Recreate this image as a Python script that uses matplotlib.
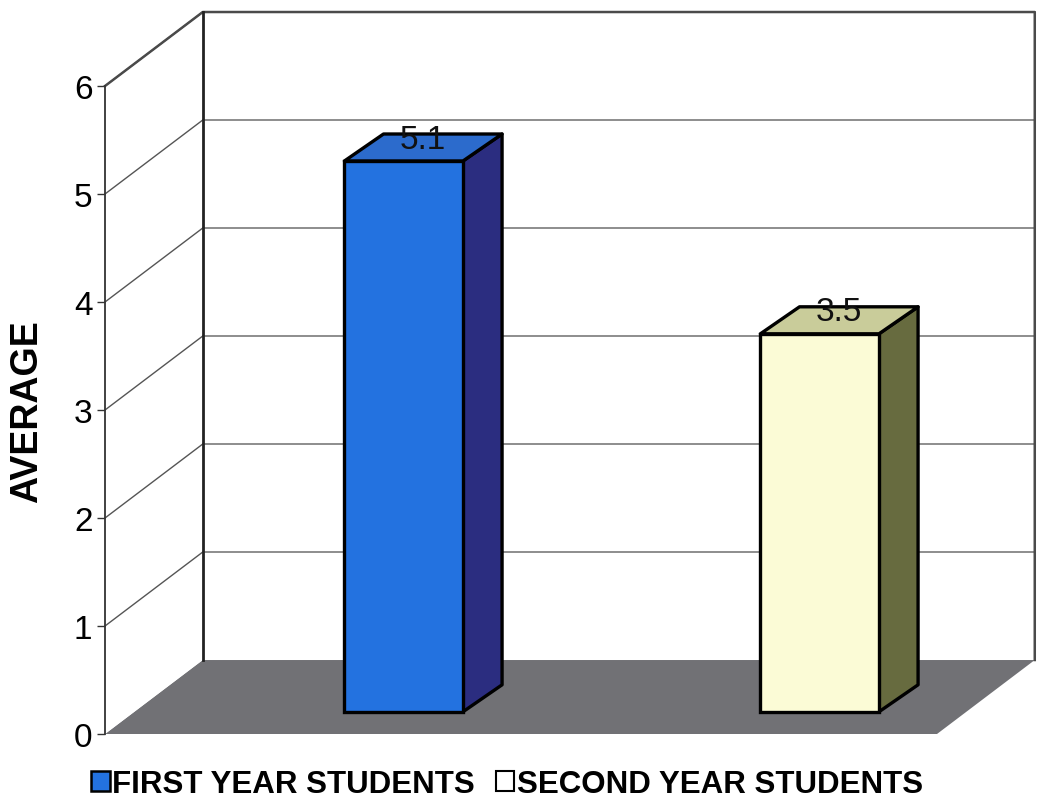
import numpy as np
import matplotlib
matplotlib.use('Agg')
import matplotlib.pyplot as plt
from matplotlib.patches import Polygon, Patch

plt.rcParams['font.family'] = ['Liberation Sans', 'DejaVu Sans']

groups = ['FIRST YEAR STUDENTS', 'SECOND YEAR STUDENTS']
averages = [5.1, 3.5]
yticks = [0, 1, 2, 3, 4, 5, 6]

front_col = ['#2372e0', '#fbfbd6']
top_col = ['#2c6bcc', '#c9cc9a']
side_col = ['#2b2d80', '#676b3f']

# fake 3d geometry (data units)
W = 2.0            # width of the floor
DX, DY = 0.235, 0.685   # depth of the walls
fdx, fdy = 0.3 * DX, 0.3 * DY   # bars sit a bit back from the front edge
bdx, bdy = 0.094, 0.25          # depth of one bar
bw = 0.285
xpos = np.arange(len(averages)) + 0.505
ytop = yticks[-1]

fig = plt.figure(figsize=(10.39, 8.03), dpi=100)
ax = fig.add_axes([0, 0, 1, 1])
ax.set_xlim(-105 / 416, (1039 - 105) / 416)
ax.set_ylim(-68 / 108, 735 / 108)

# floor
ax.add_patch(Polygon([(0, 0), (W, 0), (W + DX, DY), (DX, DY)],
                     closed=True, fc='#717175', ec='none', zorder=1))
# side wall and back wall
ax.add_patch(Polygon([(0, 0), (0, ytop), (DX, ytop + DY), (DX, DY)],
                     closed=True, fc='white', ec='none', zorder=1))
ax.add_patch(Polygon([(DX, DY), (DX, ytop + DY), (W + DX, ytop + DY), (W + DX, DY)],
                     closed=True, fc='white', ec='none', zorder=1))

for t in yticks[1:]:
    ax.plot([0, DX], [t, t + DY], color='#555555', lw=1.0, zorder=2)
    ax.plot([DX, W + DX], [t + DY, t + DY], color='#7a7a7a', lw=1.2, zorder=2)
ax.plot([0, DX, W + DX, W + DX], [ytop, ytop + DY, ytop + DY, DY],
        color='#4a4a4a', lw=1.8, zorder=2)
ax.plot([DX, DX], [DY, ytop + DY], color='#222222', lw=2.0, zorder=2)

# bars: front face, then side and top
fronts = ax.bar(xpos + fdx, averages, bw, bottom=fdy, align='edge',
                color=front_col, edgecolor='black', linewidth=2.4, zorder=5)
for i, v in enumerate(averages):
    x0 = xpos[i] + fdx
    x1 = x0 + bw
    y0 = fdy
    y1 = fdy + v
    side = [(x1, y0), (x1 + bdx, y0 + bdy), (x1 + bdx, y1 + bdy), (x1, y1)]
    top = [(x0, y1), (x0 + bdx, y1 + bdy), (x1 + bdx, y1 + bdy), (x1, y1)]
    ax.add_patch(Polygon(side, closed=True, fc=side_col[i], ec='black',
                         lw=2.4, joinstyle='round', zorder=4))
    ax.add_patch(Polygon(top, closed=True, fc=top_col[i], ec='black',
                         lw=2.4, joinstyle='round', zorder=4))
    ax.text(x0 + bw / 2 + bdx / 2, y1 + bdy / 2, f'{v:.1f}',
            ha='center', va='baseline', fontsize=24, color='#111111', zorder=6)

# front value axis
for s in ['top', 'right', 'bottom']:
    ax.spines[s].set_visible(False)
ax.spines['left'].set_position(('data', 0))
ax.spines['left'].set_bounds(0, ytop)
ax.spines['left'].set_linewidth(1.3)
ax.spines['left'].set_color('#333333')
ax.spines['left'].set_zorder(3)
ax.set_yticks(yticks)
ax.tick_params(axis='y', direction='out', length=6, width=1.0,
               color='#333333', labelsize=24, pad=3)
ax.set_xticks([])
ax.set_ylabel('AVERAGE', fontsize=27, fontweight='bold', va='center', ha='center')
ax.yaxis.set_label_coords(27 / 1039, 0.487)
ax.set_facecolor('white')

handles = [Patch(fc=front_col[0], ec='black', lw=1.8),
           Patch(fc='white', ec='black', lw=1.5)]
fig.legend(handles, groups, loc='center', bbox_to_anchor=(0.488, 0.022),
           ncol=2, frameon=False, handlelength=0.6, handleheight=0.6,
           handletextpad=0.08, columnspacing=0.65, borderpad=0,
           prop={'size': 22.5, 'weight': 'bold'})

fig.savefig('out.png', dpi=100)
